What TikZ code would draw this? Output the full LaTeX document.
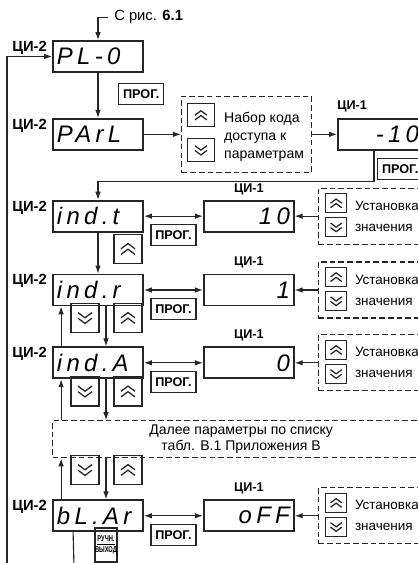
\documentclass[tikz,border=0pt]{standalone}
\usepackage{fontspec}
\setmainfont{Liberation Sans}
\newfontfamily\segfont[LetterSpace=18]{Liberation Sans}
\newfontfamily\narrowfont[FakeStretch=0.68]{Liberation Sans}
\usetikzlibrary{
  arrows.meta,
  positioning,
  calc
}
\definecolor{ciInk}{HTML}{262626}
\tikzset{
  lcd/.style={
    draw=ciInk, line width=1.3pt, minimum width=22.5mm, minimum height=7.75mm,
    inner sep=0pt, text width=20.5mm, font=\segfont\itshape\fontsize{17}{17}\selectfont
  },
  lcdl/.style={lcd, align=left},
  lcdr/.style={lcd, align=right},
  key/.style={draw=ciInk, line width=0.9pt, minimum width=7mm, minimum height=7.25mm, inner sep=0pt},
  keymd/.style={key, minimum width=6.75mm, minimum height=5.75mm},
  keysm/.style={key, minimum width=5.25mm, minimum height=4.75mm},
  chev/.pic={
    \draw[ciInk, line width=0.9pt] (-1.75mm,0.05mm) -- (0,1.35mm) -- (1.75mm,0.05mm)
      (-1.75mm,-1.35mm) -- (0,-0.05mm) -- (1.75mm,-1.35mm);
  },
  kup/.style={path picture={\pic[scale=#1] at (path picture bounding box.center) {chev};}},
  kup/.default=1,
  kdn/.style={path picture={\pic[xscale=#1, yscale=-#1] at (path picture bounding box.center) {chev};}},
  kdn/.default=1,
  prog/.style={draw=ciInk, line width=1pt, minimum width=11.25mm, minimum height=5.25mm,
    inner sep=0pt, font=\bfseries\fontsize{9}{10}\selectfont},
  manual/.style={draw=ciInk, line width=0.8pt, minimum width=5.5mm, minimum height=8.5mm,
    inner sep=0pt, align=center, font=\narrowfont\bfseries\fontsize{6}{7.5}\selectfont},
  ci/.style={inner sep=0pt, font=\bfseries\fontsize{9}{10}\selectfont},
  ci2/.style={ci, anchor=east, font=\bfseries\fontsize{10.5}{11}\selectfont},
  txt/.style={inner sep=0pt, align=left, font=\fontsize{10}{13}\selectfont},
  dashbox/.style={draw=ciInk, line width=0.8pt, dash pattern=on 4pt off 2.2pt},
  flow/.style={draw=ciInk, line width=0.8pt, -{Latex[length=2mm, width=1.4mm]}},
  both/.style={flow, {Latex[length=2mm, width=1.4mm]}-{Latex[length=2mm, width=1.4mm]}},
  wire/.style={draw=ciInk, line width=0.8pt}
}
\begin{document}
\begin{tikzpicture}[x=0.25mm, y=-0.25mm, node distance=10mm]
  \useasboundingbox (0,0) rectangle (418,563);
  \node[lcdl] (pl) at (98,56.5) {PL-0};
  \node[lcdl, below=11.25mm of pl] (parl) {PArL};
  \node[lcdl, below=12.25mm of parl] (indt) {ind.t};
  \node[lcdl, below=10.25mm of indt] (indr) {ind.r};
  \node[lcdl, below=10mm of indr] (inda) {ind.A};
  \node[dashbox, txt, align=center, minimum width=94.25mm, minimum height=9.25mm, anchor=north west,
    font=\fontsize{10}{11.5}\selectfont] (more) at ([yshift=-10.25mm]inda.south west)
    {Далее параметры по списку\\табл. В.1 Приложения В};
  \node[lcdl, anchor=north west] (blar) at ([yshift=-10.25mm]more.south west) {bL.Ar};
  \foreach \n in {pl, parl, indt, indr, inda, blar}
    \node[ci2] (l\n) at ([xshift=-1.25mm, yshift=-1.9mm]\n.north west) {ЦИ-2};

  \node[txt, anchor=west, inner xsep=1.5mm, font=\fontsize{10.5}{12}\selectfont] (src)
    at ([xshift=2.5mm, yshift=5.75mm]pl.north) {С рис. \textbf{6.1}};
  \draw[flow] (src.west) -| (pl.north);
  \draw[flow] (pl) -- (parl);
  \node[prog, anchor=north west] (prog1) at ([xshift=5mm, yshift=-2.5mm]pl.south) {ПРОГ.};

  \node[dashbox, minimum width=32.5mm, minimum height=19mm, right=9.25mm of parl] (code) {};
  \node[keymd, kup=0.85] (codeup) at ([xshift=5mm, yshift=4.75mm]code.west) {};
  \node[keymd, kdn=0.85] (codedn) at ([xshift=5mm, yshift=-4mm]code.west) {};
  \node[txt, anchor=west] (codetxt) at ([xshift=10.75mm, yshift=-0.6mm]code.west)
    {Набор кода\\доступа к\\параметрам};
  \node[lcdr, text width=18mm, right=6.25mm of code] (pass) {-10};
  \node[ci, anchor=south west] (lpass) at ([yshift=1.5mm]pass.north west) {ЦИ-1};
  \node[prog, anchor=north west] (prog2) at ([xshift=-1.5mm, yshift=-1.75mm]pass.south) {ПРОГ.};
  \draw[flow] (parl) -- (code);
  \draw[flow] (code) -- (pass);
  \draw[flow] ([xshift=-2.25mm]pass.south) -- ++(0,31) -| (indt.north);

  \foreach \row/\val in {indt/10, indr/1, inda/0, blar/oFF}{
    \node[lcdr, right=14.75mm of \row] (c\row) {\val};
    \node[ci, above=1.2mm of c\row] (lc\row) {ЦИ-1};
    \node[prog] (p\row) at ($(\row.east)!.5!(c\row.west)+(0,-4.75mm)$) {ПРОГ.};
    \node[dashbox, minimum width=30mm, minimum height=14mm, right=5.75mm of c\row] (s\row) {};
    \node[keysm, kup=0.8] (su\row) at ([xshift=4.6mm, yshift=3.2mm]s\row.west) {};
    \node[keysm, kdn=0.8] (sd\row) at ([xshift=4.6mm, yshift=-2.8mm]s\row.west) {};
    \node[txt, anchor=west, font=\fontsize{9.6}{15}\selectfont] (st\row)
      at ([xshift=9.25mm]s\row.west) {Установка\\значения};
    \draw[both] (\row) -- (c\row);
    \draw[flow] (s\row) -- (c\row);
  }

  \draw[flow] (indt) -- (indr);
  \draw[flow] ([xshift=2.25mm]inda.north west) -- ([xshift=2.25mm]indr.south west);
  \draw[flow] ([xshift=2mm]indr.south) -- ([xshift=2mm]inda.north);
  \draw[flow] ([xshift=2.25mm]more.north west) -- ([xshift=2.25mm]inda.south west);
  \draw[flow] ([xshift=2mm]inda.south) -- ([xshift=2mm]inda.south |- more.north);
  \draw[flow] ([xshift=2.25mm]blar.north west) -- ([xshift=2.25mm]more.south west);
  \draw[flow] ([xshift=2mm]blar.north |- more.south) -- ([xshift=2mm]blar.north);
  \node[key, kup] (ku1) at (128,249) {};
  \foreach \y [count=\i from 2] in {318, 391.5, 470}{
    \node[key, kdn] (kd\i) at (85,\y) {};
    \node[key, kup] (ku\i) at (128,\y) {};
  }

  \coordinate (back) at (7,566);
  \coordinate (exit) at (74,566);
  \draw[flow] (back) |- (pl.west);
  \draw[wire] ([xshift=5.25mm]blar.south west) -- (exit);
  \node[manual] (hand) at (106,545) {\underline{РУЧН.}\\ВЫХОД};
\end{tikzpicture}
\end{document}
